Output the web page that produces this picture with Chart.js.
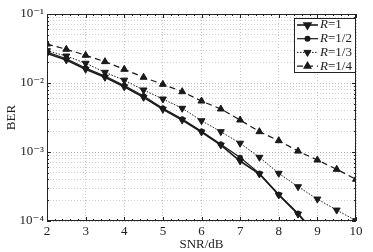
<!DOCTYPE html>
<html>
<head>
<meta charset="utf-8">
<script src="https://cdn.jsdelivr.net/npm/chart.js@4.4.1/dist/chart.umd.min.js"></script>
<style>
  html, body { margin: 0; padding: 0; background: #fff; }
  #contenedor { width: 373px; height: 252px; }
</style>
</head>
<body>
<div id="contenedor"><canvas id="graficoBER"></canvas></div>
<script>
// Datos (BER frente a SNR)
const snrDb = [2, 2.5, 3, 3.5, 4, 4.5, 5, 5.5, 6, 6.5, 7, 7.5, 8, 8.5, 9];
const snrDbLargo = [2, 2.5, 3, 3.5, 4, 4.5, 5, 5.5, 6, 6.5, 7, 7.5, 8, 8.5, 9, 9.5, 10];

const berR1 = [0.0268, 0.0216, 0.0158, 0.0121, 0.0088, 0.0062, 0.00416, 0.00291, 0.00195, 0.00126, 0.00074, 0.00048, 0.000238, 0.000126, 0.00006];
const berR12 = [0.0281, 0.0225, 0.0165, 0.0126, 0.0092, 0.0065, 0.00432, 0.00300, 0.00200, 0.00130, 0.00083, 0.00049, 0.000242, 0.000129, 0.000062];
const berR13 = [0.0294, 0.0246, 0.0193, 0.0143, 0.0110, 0.00792, 0.00586, 0.00430, 0.00284, 0.00197, 0.00134, 0.000838, 0.000491, 0.000314, 0.000208, 0.000144, 0.000101];
const berR14 = [0.0367, 0.0308, 0.0252, 0.0204, 0.0158, 0.0121, 0.00957, 0.00748, 0.00548, 0.00420, 0.00291, 0.00197, 0.00146, 0.00103, 0.000765, 0.000561, 0.000402];

const ticksX = [2, 3, 4, 5, 6, 7, 8, 9, 10];
const decadasY = [1e-4, 1e-3, 1e-2, 1e-1];
const etiquetasY = ['10\u207B\u2074', '10\u207B\u00B3', '10\u207B\u00B2', '10\u207B\u00B9'];
const nombresSeries = ['1', '1/2', '1/3', '1/4'];

const fuente = '"Liberation Serif", "DejaVu Serif", serif';

function puntos(xs, ys) {
    return ys.map((y, i) => ({ x: xs[i], y: y }));
}

// ticks menores del eje logaritmico
const ticksY = [];
for (let e = -4; e < -1; e++) {
    for (let m = 1; m < 10; m++) {
        ticksY.push(m * Math.pow(10, e));
    }
}
ticksY.push(1e-1);

function esDecada(v) {
    return decadasY.some(d => Math.abs(v - d) / d < 1e-6);
}

// Recuadro con marcas hacia dentro, como en la figura original
const pluginMarco = {
    id: 'marco',
    afterDraw(chart) {
        const ctx = chart.ctx;
        const a = chart.chartArea;
        const sx = chart.scales.x;
        const sy = chart.scales.y;
        ctx.save();
        ctx.strokeStyle = '#222';
        ctx.lineWidth = 1;
        ctx.strokeRect(a.left + 0.5, a.top + 0.5, a.right - a.left - 1, a.bottom - a.top - 1);

        ctx.beginPath();
        for (let v = 2; v <= 10.0001; v += 0.2) {
            const px = Math.round(sx.getPixelForValue(v)) + 0.5;
            const mayor = Math.abs(v - Math.round(v)) < 1e-6;
            const largo = mayor ? 4 : 2;
            ctx.moveTo(px, a.bottom);
            ctx.lineTo(px, a.bottom - largo);
            ctx.moveTo(px, a.top);
            ctx.lineTo(px, a.top + largo);
        }
        ticksY.forEach(v => {
            const py = Math.round(sy.getPixelForValue(v)) + 0.5;
            const largo = esDecada(v) ? 4 : 2;
            ctx.moveTo(a.left, py);
            ctx.lineTo(a.left + largo, py);
            ctx.moveTo(a.right, py);
            ctx.lineTo(a.right - largo, py);
        });
        ctx.stroke();
        ctx.restore();
    }
};

// Leyenda dentro del area del grafico
const pluginLeyenda = {
    id: 'leyendaInterna',
    afterDraw(chart) {
        const ctx = chart.ctx;
        const a = chart.chartArea;
        const x0 = 294, y0 = 18, x1 = a.right, y1 = 73;
        ctx.save();
        ctx.fillStyle = '#fff';
        ctx.fillRect(x0, y0, x1 - x0, y1 - y0);
        ctx.strokeStyle = '#222';
        ctx.lineWidth = 1;
        ctx.strokeRect(x0 + 0.5, y0 + 0.5, x1 - x0 - 1, y1 - y0 - 1);

        chart.data.datasets.forEach((ds, i) => {
            const yy = 25 + i * 13.7;
            ctx.strokeStyle = ds.borderColor;
            ctx.lineWidth = ds.borderWidth;
            ctx.setLineDash(ds.borderDash || []);
            ctx.beginPath();
            ctx.moveTo(297, yy);
            ctx.lineTo(318, yy);
            ctx.stroke();
            ctx.setLineDash([]);

            const estilo = {
                pointStyle: ds.pointStyle,
                rotation: ds.pointRotation || 0,
                radius: ds.pointRadius,
                borderWidth: 1
            };
            ctx.fillStyle = ds.pointBackgroundColor;
            ctx.strokeStyle = ds.pointBorderColor;
            Chart.helpers.drawPoint(ctx, estilo, 307.5, yy);

            ctx.fillStyle = '#222';
            ctx.textBaseline = 'middle';
            ctx.textAlign = 'left';
            ctx.font = 'italic 13px ' + fuente;
            ctx.fillText('R', 320, yy);
            const anchoR = ctx.measureText('R').width;
            ctx.font = '13px ' + fuente;
            ctx.fillText('=' + nombresSeries[i], 320 + anchoR, yy);
        });
        ctx.restore();
    }
};

function serie(etiqueta, datos, estilo, rotacion, dash, grosor, radio, orden) {
    return {
        label: 'R=' + etiqueta,
        data: datos,
        order: orden,
        borderColor: '#1a1a1a',
        backgroundColor: '#1a1a1a',
        borderWidth: grosor,
        borderDash: dash,
        pointStyle: estilo,
        pointRotation: rotacion,
        pointRadius: radio,
        pointBackgroundColor: '#1a1a1a',
        pointBorderColor: '#1a1a1a',
        pointBorderWidth: 1,
        tension: 0,
        fill: false
    };
}

const ctxBER = document.getElementById('graficoBER').getContext('2d');
const graficoBER = new Chart(ctxBER, {
    type: 'line',
    data: {
        datasets: [
            serie(nombresSeries[0], puntos(snrDb, berR1), 'triangle', 180, [], 1.6, 4, 0),
            serie(nombresSeries[1], puntos(snrDb, berR12), 'circle', 0, [], 1.2, 2.4, 1),
            serie(nombresSeries[2], puntos(snrDbLargo, berR13), 'triangle', 180, [1.5, 1.5], 1, 4, 2),
            serie(nombresSeries[3], puntos(snrDbLargo, berR14), 'triangle', 0, [6, 4], 1.2, 4, 3)
        ]
    },
    options: {
        responsive: true,
        maintainAspectRatio: false,
        animation: false,
        devicePixelRatio: 1,
        layout: { padding: { top: 14, right: 17, left: 0, bottom: 0 } },
        plugins: {
            legend: { display: false },
            tooltip: { enabled: false }
        },
        scales: {
            x: {
                type: 'linear',
                min: 2,
                max: 10,
                afterBuildTicks: (escala) => {
                    escala.ticks = ticksX.map(v => ({ value: v }));
                },
                afterFit: (escala) => { escala.height = 31; },
                ticks: {
                    color: '#222',
                    padding: 3,
                    maxRotation: 0,
                    font: { family: fuente, size: 13 },
                    callback: (v) => String(v)
                },
                grid: {
                    color: '#c4c4c4',
                    lineWidth: 1,
                    drawTicks: false
                },
                border: { display: false, dash: [1, 2] },
                title: {
                    display: true,
                    text: 'SNR/dB',
                    color: '#222',
                    font: { family: fuente, size: 13 },
                    padding: { top: 0, bottom: 0 }
                }
            },
            y: {
                type: 'logarithmic',
                min: 1e-4,
                max: 1e-1,
                afterBuildTicks: (escala) => {
                    escala.ticks = ticksY.map(v => ({ value: v }));
                },
                afterFit: (escala) => { escala.width = 47; },
                ticks: {
                    color: '#222',
                    padding: 3,
                    autoSkip: false,
                    font: { family: fuente, size: 13 },
                    callback: (v) => {
                        const idx = decadasY.findIndex(d => Math.abs(v - d) / d < 1e-6);
                        return idx >= 0 ? etiquetasY[idx] : '';
                    }
                },
                grid: {
                    color: (c) => esDecada(c.tick.value) ? '#b8b8b8' : '#cfcfcf',
                    lineWidth: 1,
                    drawTicks: false
                },
                border: { display: false, dash: [1, 2] },
                title: {
                    display: true,
                    text: 'BER',
                    color: '#222',
                    font: { family: fuente, size: 13 },
                    padding: { top: 4, bottom: 0 }
                }
            }
        }
    },
    plugins: [pluginMarco, pluginLeyenda]
});
</script>
</body>
</html>
